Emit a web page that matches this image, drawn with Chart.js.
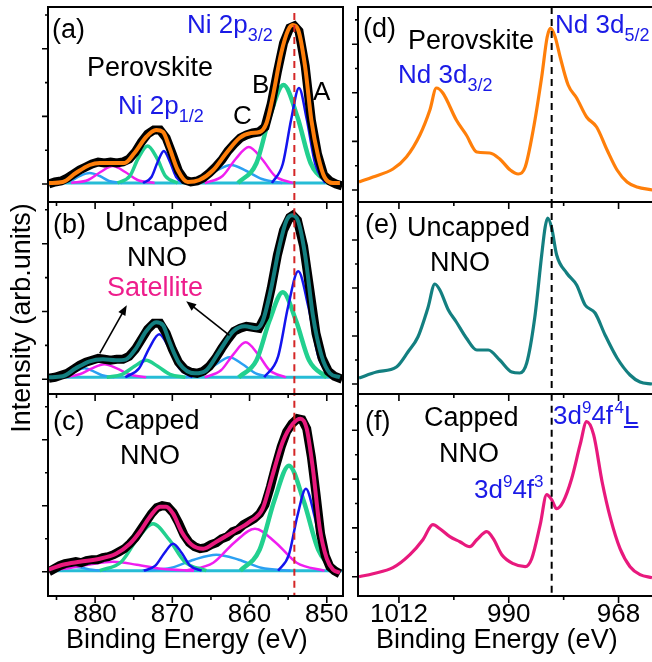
<!DOCTYPE html>
<html>
<head>
<meta charset="utf-8">
<script src="https://cdn.jsdelivr.net/npm/chart.js@4.4.0/dist/chart.umd.min.js"></script>
<style>
  body { margin: 0; width: 652px; height: 662px; overflow: hidden; position: relative; background: #fff;
         font-family: "Liberation Sans", Arial, sans-serif; }
  canvas { position: absolute; }
  .t { position: absolute; white-space: nowrap; line-height: 1; font-size: 27px; color: #000; }
  .b { color: #1a1ae6; font-size: 26px; }
  .sb { font-size: 18px; position: relative; top: 8px; }
  .sp { font-size: 17px; position: relative; top: -11px; }
  .ytitle { left: 21px; top: 318px; transform: translate(-50%, -50%) rotate(-90deg); }
</style>
</head>
<body>
<script>
// ---- Ni 2p (left column), [binding energy eV, intensity] ----
const niTicksX = [885, 880, 875, 870, 865, 860, 855, 850];
const niMajorX = [880, 870, 860, 850];
const niLine   = [[854.2, -40], [854.2, 200]];

const a_fit = [[886.0,1],[884.2,2],[882.5,11],[880.7,19],[879.4,21],[877.7,21],[876.2,21],[874.9,31],[873.4,47],[872.1,54],[871.2,52],[870.4,37],[869.3,14],[868.0,2],[866.5,4],[864.7,14],[863.0,31],[861.3,46],[859.8,51],[858.7,52],[857.8,61],[857.0,87],[855.9,131],[855.0,154],[854.4,159],[853.7,154],[852.8,117],[852.0,64],[851.1,27],[850.3,7],[849.2,1],[848.3,1]];
const a_exp = [[886.0,0],[885.2,2],[884.4,3],[883.6,6],[882.8,10],[882.0,14],[881.2,17],[880.4,20],[879.6,22],[878.8,21],[878.0,22],[877.2,21],[876.4,22],[875.6,25],[874.8,32],[874.0,42],[873.2,50],[872.4,54],[871.6,54],[870.8,46],[870.0,30],[869.2,13],[868.4,4],[867.6,2],[866.8,3],[866.0,6],[865.2,11],[864.4,17],[863.6,24],[862.8,33],[862.0,40],[861.2,46],[860.4,49],[859.6,51],[858.8,52],[858.0,57],[857.2,80],[856.4,112],[855.6,141],[854.8,156],[854.2,158],[853.6,153],[852.8,118],[852.0,64],[851.2,30],[850.4,9],[849.6,3],[848.8,0],[848.0,-2]];
const a_A   = [[857.1,1],[855.7,20],[854.6,65],[853.6,96],[852.6,65],[851.5,20],[850.2,1]];
const a_B   = [[861.5,1],[859.1,21],[857.4,67],[855.6,99],[853.8,67],[852.1,21],[849.8,1]];
const a_C   = [[865.8,1],[863.5,8],[861.8,25],[860.1,37],[858.4,25],[856.7,8],[854.4,1]];
const a_D   = [[869.0,1],[866.4,5],[864.4,13],[862.4,19],[860.4,13],[858.4,5],[855.8,1]];
const a_g12 = [[877.1,1],[875.5,8],[874.4,26],[873.2,38],[872.0,26],[870.9,8],[869.3,1]];
const a_b12 = [[873.8,1],[872.7,7],[871.9,22],[871.1,33],[870.3,22],[869.5,7],[868.4,1]];
const a_m12 = [[883.1,1],[880.9,4],[879.3,12],[877.7,18],[876.1,12],[874.5,4],[872.3,1]];
const a_d12 = [[884.9,1],[883.2,3],[882.0,8],[880.7,11],[879.4,8],[878.2,3],[876.5,1]];
const a_base = [[886.1,1],[847.9,1]];

const b_fit = [[886.0,2],[884.2,3],[882.5,11],[880.7,18],[879.0,20],[877.3,19],[876.0,20],[874.7,31],[873.4,48],[872.1,57],[871.2,54],[870.4,38],[869.1,16],[867.1,6],[865.6,9],[863.9,28],[862.1,48],[860.6,53],[859.1,51],[858.3,58],[857.2,91],[856.1,134],[855.2,159],[854.5,164],[853.7,158],[852.8,124],[851.8,64],[850.7,24],[849.6,6],[848.3,2]];
const b_exp = [[886.0,1],[885.2,2],[884.4,4],[883.6,6],[882.8,10],[882.0,14],[881.2,17],[880.4,19],[879.6,21],[878.8,20],[878.0,19],[877.2,20],[876.4,20],[875.6,23],[874.8,30],[874.0,40],[873.2,50],[872.4,56],[871.6,56],[870.8,46],[870.0,30],[869.2,17],[868.4,10],[867.6,7],[866.8,6],[866.0,8],[865.2,13],[864.4,21],[863.6,31],[862.8,40],[862.0,48],[861.2,51],[860.4,53],[859.6,52],[858.8,51],[858.0,63],[857.2,91],[856.4,124],[855.6,149],[854.8,162],[854.4,164],[853.8,159],[853.0,133],[852.2,90],[851.4,46],[850.6,21],[849.8,8],[849.0,3],[848.0,0]];
const b_A   = [[858.1,2],[856.3,23],[855.0,73],[853.7,108],[852.4,73],[851.1,23],[849.4,2]];
const b_B   = [[861.4,2],[859.1,19],[857.4,59],[855.7,87],[854.0,59],[852.3,19],[850.0,2]];
const b_C   = [[865.8,2],[863.7,9],[862.1,25],[860.5,37],[858.9,25],[857.4,9],[855.3,2]];
const b_D   = [[868.3,2],[866.0,6],[864.3,15],[862.6,22],[860.9,15],[859.2,6],[856.9,2]];
const b_g12 = [[878.5,2],[876.5,5],[874.9,13],[873.4,19],[871.9,13],[870.3,5],[868.3,2]];
const b_b12 = [[876.1,2],[874.3,11],[873.0,31],[871.7,45],[870.4,31],[869.1,11],[867.4,2]];
const b_m12 = [[884.2,2],[882.0,5],[880.4,11],[878.8,15],[877.2,11],[875.6,5],[873.4,2]];
const b_d12 = [[885.3,2],[883.7,4],[882.6,8],[881.4,11],[880.2,8],[879.1,4],[877.5,2]];
const b_base = [[886.1,2],[847.9,2]];
const b_arrows = [[[879.4,26],[875.9,74]], [[862.6,44],[868.2,78]]];

const c_fit = [[886.0,2],[884.2,7],[882.0,10],[879.4,13],[877.3,18],[875.5,28],[874.2,40],[872.9,55],[871.6,65],[870.8,65],[869.9,58],[868.8,40],[867.5,27],[866.0,23],[864.3,30],[862.1,40],[860.0,50],[858.3,63],[857.0,97],[855.7,130],[854.4,148],[853.4,153],[852.6,143],[851.8,103],[850.9,43],[850.0,13],[849.2,2],[848.3,-1]];
const c_exp = [[886.0,0],[885.3,3],[884.6,6],[883.9,8],[883.2,9],[882.5,10],[881.8,9],[881.1,11],[880.4,12],[879.7,12],[879.0,14],[878.3,15],[877.6,17],[876.9,20],[876.2,23],[875.5,28],[874.8,34],[874.1,42],[873.4,50],[872.7,58],[872.0,64],[871.3,66],[870.6,65],[869.9,59],[869.2,49],[868.5,37],[867.8,29],[867.1,25],[866.4,23],[865.7,24],[865.0,27],[864.3,29],[863.6,33],[862.9,35],[862.2,40],[861.5,42],[860.8,47],[860.1,50],[859.4,53],[858.7,58],[858.0,67],[857.3,85],[856.6,106],[855.9,125],[855.2,140],[854.5,148],[853.8,153],[853.2,152],[852.6,143],[852.0,115],[851.4,78],[850.8,38],[850.2,16],[849.6,5],[849.0,1],[848.3,-2]];
const c_A   = [[856.3,1],[854.9,17],[853.8,56],[852.7,83],[851.6,56],[850.5,17],[849.1,1]];
const c_B   = [[861.2,1],[858.7,22],[856.8,71],[854.9,106],[853.0,71],[851.1,22],[848.6,1]];
const c_C   = [[868.3,1],[864.7,9],[862.0,29],[859.3,43],[856.6,29],[853.9,9],[850.3,1]];
const c_D   = [[873.9,1],[870.1,4],[867.2,12],[864.3,17],[861.4,12],[858.5,4],[854.7,1]];
const c_g12 = [[879.4,1],[876.6,10],[874.6,32],[872.5,48],[870.4,32],[868.4,10],[865.6,1]];
const c_b12 = [[873.7,1],[872.2,6],[871.0,19],[869.9,28],[868.8,19],[867.7,6],[866.2,1]];
const c_m12 = [[888.2,1],[884.0,3],[880.9,7],[877.7,10],[874.6,7],[871.4,3],[867.2,1]];
const c_d12 = [[887.6,1],[885.8,2],[884.5,4],[883.1,5],[881.8,4],[880.4,2],[878.6,1]];
const c_base = [[886.1,1],[847.9,1]];

// ---- Nd 3d (right column) ----
const ndTicksX = [1012, 1001, 990, 979, 968];
const ndMajorX = [1012, 990, 968];
const ndLine   = [[981.4, -40], [981.4, 200]];
const d_spec = [[1020.0,8],[1017.2,13],[1013.2,21],[1010.5,33],[1007.8,55],[1005.8,80],[1004.5,102],[1003.2,97],[1000.5,70],[998.5,55],[996.4,38],[993.8,37],[991.8,31],[989.7,20],[988.1,16],[986.7,23],[985.1,60],[983.4,113],[982.3,153],[981.6,162],[980.7,153],[979.7,133],[978.1,105],[976.4,92],[974.4,73],[972.4,63],[970.3,40],[968.3,20],[966.3,8],[964.3,3],[961.2,0]];
const e_spec = [[1020.0,6],[1016.5,12],[1012.5,17],[1010.2,32],[1008.2,47],[1006.2,76],[1004.8,100],[1003.8,94],[1002.1,74],[1000.5,62],[998.5,46],[996.4,34],[994.1,34],[991.8,24],[989.4,12],[987.8,11],[986.4,21],[984.8,66],[983.4,129],[982.7,157],[982.2,166],[981.4,156],[980.4,129],[978.4,111],[976.4,99],[974.7,79],[972.7,71],[970.7,49],[968.3,26],[965.7,9],[963.7,2],[961.3,0]];
const f_spec = [[1020.0,0],[1017.2,3],[1013.2,9],[1009.8,22],[1007.2,37],[1005.2,52],[1003.8,48],[1001.8,40],[999.8,35],[997.8,30],[996.4,37],[994.4,45],[993.1,38],[991.4,22],[989.1,13],[986.7,10],[985.4,18],[983.7,52],[982.4,82],[981.4,77],[980.4,68],[979.1,75],[977.4,98],[975.7,132],[974.4,155],[973.0,142],[971.3,95],[969.6,58],[967.7,28],[965.7,10],[963.7,2],[961.3,-1]];

// y tick values (alternating major / minor) and ranges per panel
const yTicksA = [0, 33.8, 67.6, 101.4, 135.2, 169];
const yTicksB = [0, 33.9, 67.8, 101.7, 135.6, 169.5];
const yTicksC = [0, 33, 66, 99, 132, 165];
const yTicksD = [0, 24.3, 48.6, 72.9, 97.2, 121.5, 145.8, 170.1];
const yTicksE = [0, 24, 48, 72, 96, 120, 144, 168];
const yTicksF = [0, 24.4, 48.8, 73.2, 97.6, 122, 146.4, 170.8];

const COL = {
  ni: { left: 48, right: 343, min: 847.9, max: 886.1, ticks: niTicksX, major: niMajorX },
  nd: { left: 358, right: 654, min: 960.9, max: 1020.2, ticks: ndTicksX, major: ndMajorX },
};
const ROW = [{ top: 7, bottom: 202 }, { top: 202, bottom: 394 }, { top: 394, bottom: 596 }];

const C = {
  green: '#22d08f', blue: '#1414ee', magenta: '#f01ef0', sky: '#2ba0f2', base: '#26bcd6',
  red: '#d42626', orange: '#ff7f0a', teal: '#137f80', pink: '#e8197d',
};

function pts(arr) { return arr.map(([x, y]) => ({ x, y })); }
function curve(arr, color, width, extra) {
  return Object.assign({
    data: pts(arr), borderColor: color, borderWidth: width, pointRadius: 0,
    fill: false, cubicInterpolationMode: 'monotone',
  }, extra || {});
}

function framePlugin(col, yTicks, labels, arrows) {
  return {
    id: 'frame',
    afterDraw(chart) {
      const { ctx, chartArea: a, scales: { x, y } } = chart;
      ctx.save();
      ctx.strokeStyle = '#000';
      ctx.lineWidth = 1.6;
      ctx.beginPath();
      col.ticks.forEach(v => {
        const px = x.getPixelForValue(v);
        const len = col.major.includes(v) ? 7 : 4;
        ctx.moveTo(px, a.bottom);
        ctx.lineTo(px, a.bottom + len);
      });
      yTicks.forEach((v, i) => {
        const py = y.getPixelForValue(v);
        ctx.moveTo(a.left - (i % 2 ? 3 : 6), py);
        ctx.lineTo(a.left, py);
      });
      ctx.stroke();
      ctx.lineWidth = 2;
      ctx.strokeRect(a.left, a.top, a.right - a.left, a.bottom - a.top);

      if (labels) {
        ctx.fillStyle = '#000';
        ctx.font = '26px "Liberation Sans", Arial, sans-serif';
        ctx.textAlign = 'center';
        ctx.textBaseline = 'alphabetic';
        col.major.forEach(v => ctx.fillText(String(v), x.getPixelForValue(v), a.bottom + 26));
      }
      (arrows || []).forEach(([from, to]) => {
        const x0 = x.getPixelForValue(from[0]), y0 = y.getPixelForValue(from[1]);
        const x1 = x.getPixelForValue(to[0]),   y1 = y.getPixelForValue(to[1]);
        const ang = Math.atan2(y1 - y0, x1 - x0);
        ctx.lineWidth = 1.6;
        ctx.beginPath();
        ctx.moveTo(x0, y0);
        ctx.lineTo(x1 - 8 * Math.cos(ang), y1 - 8 * Math.sin(ang));
        ctx.stroke();
        ctx.fillStyle = '#000';
        ctx.beginPath();
        ctx.moveTo(x1, y1);
        ctx.lineTo(x1 - 10 * Math.cos(ang) + 4 * Math.sin(ang), y1 - 10 * Math.sin(ang) - 4 * Math.cos(ang));
        ctx.lineTo(x1 - 10 * Math.cos(ang) - 4 * Math.sin(ang), y1 - 10 * Math.sin(ang) + 4 * Math.cos(ang));
        ctx.closePath();
        ctx.fill();
      });
      ctx.restore();
    },
  };
}

function panel(col, row, yTicks, yMin, yMax, datasets, bottom, arrows) {
  const pad = { left: 12, right: 12, top: 4, bottom: bottom ? 40 : 12 };
  const cv = document.createElement('canvas');
  cv.width = col.right - col.left + pad.left + pad.right;
  cv.height = row.bottom - row.top + pad.top + pad.bottom;
  cv.style.left = (col.left - pad.left) + 'px';
  cv.style.top = (row.top - pad.top) + 'px';
  document.body.appendChild(cv);
  return new Chart(cv, {
    type: 'line',
    data: { datasets },
    options: {
      responsive: false,
      animation: false,
      events: [],
      layout: { padding: pad },
      plugins: { legend: { display: false }, tooltip: { enabled: false } },
      scales: {
        x: { type: 'linear', reverse: true, min: col.min, max: col.max, display: false },
        y: { type: 'linear', min: yMin, max: yMax, display: false },
      },
    },
    plugins: [framePlugin(col, yTicks, bottom, arrows)],
  });
}

function niSets(fit, fitColor, exp, A, B, Cc, D, g12, b12, m12, d12, base) {
  return [
    curve(niLine, C.red, 2, { borderDash: [7, 5], cubicInterpolationMode: 'default', tension: 0 }),
    curve(fit, fitColor, 4),
    curve(exp, '#000', 9, { tension: 0, cubicInterpolationMode: 'default' }),
    curve(A, C.blue, 2.5),
    curve(b12, C.blue, 2.5),
    curve(B, C.green, 4.5),
    curve(g12, C.green, 3.5),
    curve(Cc, C.magenta, 2.5),
    curve(m12, C.magenta, 2.5),
    curve(D, C.sky, 2.5),
    curve(d12, C.sky, 2.5),
    curve(base, C.base, 3, { tension: 0 }),
  ];
}
function ndSets(spec, color) {
  return [
    curve(ndLine, '#000', 2, { borderDash: [7, 5], tension: 0, cubicInterpolationMode: 'default' }),
    curve(spec, color, 3.2),
  ];
}

panel(COL.ni, ROW[0], yTicksA, -18, 177, niSets(a_fit, C.orange, a_exp, a_A, a_B, a_C, a_D, a_g12, a_b12, a_m12, a_d12, a_base), false);
panel(COL.ni, ROW[1], yTicksB, -14.7, 177.3, niSets(b_fit, C.teal, b_exp, b_A, b_B, b_C, b_D, b_g12, b_b12, b_m12, b_d12, b_base), false, b_arrows);
panel(COL.ni, ROW[2], yTicksC, -24.3, 177.7, niSets(c_fit, C.pink, c_exp, c_A, c_B, c_C, c_D, c_g12, c_b12, c_m12, c_d12, c_base), true);
panel(COL.nd, ROW[0], yTicksD, -12, 183, ndSets(d_spec, C.orange), false);
panel(COL.nd, ROW[1], yTicksE, -10, 182, ndSets(e_spec, C.teal), false);
panel(COL.nd, ROW[2], yTicksF, -19.3, 182.7, ndSets(f_spec, C.pink), true);
</script>

<div class="t ytitle">Intensity (arb.units)</div>
<div class="t" style="left:66px;top:626px;">Binding Energy (eV)</div>
<div class="t" style="left:376px;top:626px;">Binding Energy (eV)</div>

<div class="t" style="left:52px;top:16px;">(a)</div>
<div class="t" style="left:87px;top:54px;">Perovskite</div>
<div class="t b" style="left:187px;top:11px;">Ni 2p<span class="sb">3/2</span></div>
<div class="t b" style="left:118px;top:92px;">Ni 2p<span class="sb">1/2</span></div>
<div class="t" style="left:233px;top:102px;font-size:26px;">C</div>
<div class="t" style="left:252px;top:71px;font-size:26px;">B</div>
<div class="t" style="left:313px;top:78px;font-size:26px;">A</div>

<div class="t" style="left:53px;top:211px;">(b)</div>
<div class="t" style="left:105px;top:209px;">Uncapped</div>
<div class="t" style="left:127px;top:244px;">NNO</div>
<div class="t" style="left:107px;top:274px;color:#ee1d8c;">Satellite</div>

<div class="t" style="left:53px;top:408px;">(c)</div>
<div class="t" style="left:105px;top:407px;">Capped</div>
<div class="t" style="left:120px;top:442px;">NNO</div>

<div class="t" style="left:363px;top:15px;">(d)</div>
<div class="t" style="left:408px;top:27px;">Perovskite</div>
<div class="t b" style="left:555px;top:11px;">Nd 3d<span class="sb">5/2</span></div>
<div class="t b" style="left:398px;top:61px;">Nd 3d<span class="sb">3/2</span></div>

<div class="t" style="left:365px;top:211px;">(e)</div>
<div class="t" style="left:407px;top:214px;">Uncapped</div>
<div class="t" style="left:430px;top:249px;">NNO</div>

<div class="t" style="left:365px;top:408px;">(f)</div>
<div class="t" style="left:424px;top:404px;">Capped</div>
<div class="t" style="left:439px;top:440px;">NNO</div>
<div class="t b" style="left:553px;top:402px;">3d<span class="sp">9</span>4f<span class="sp">&#8202;4</span><u>L</u></div>
<div class="t b" style="left:474px;top:476px;">3d<span class="sp">9</span>4f<span class="sp">3</span></div>
</body>
</html>
